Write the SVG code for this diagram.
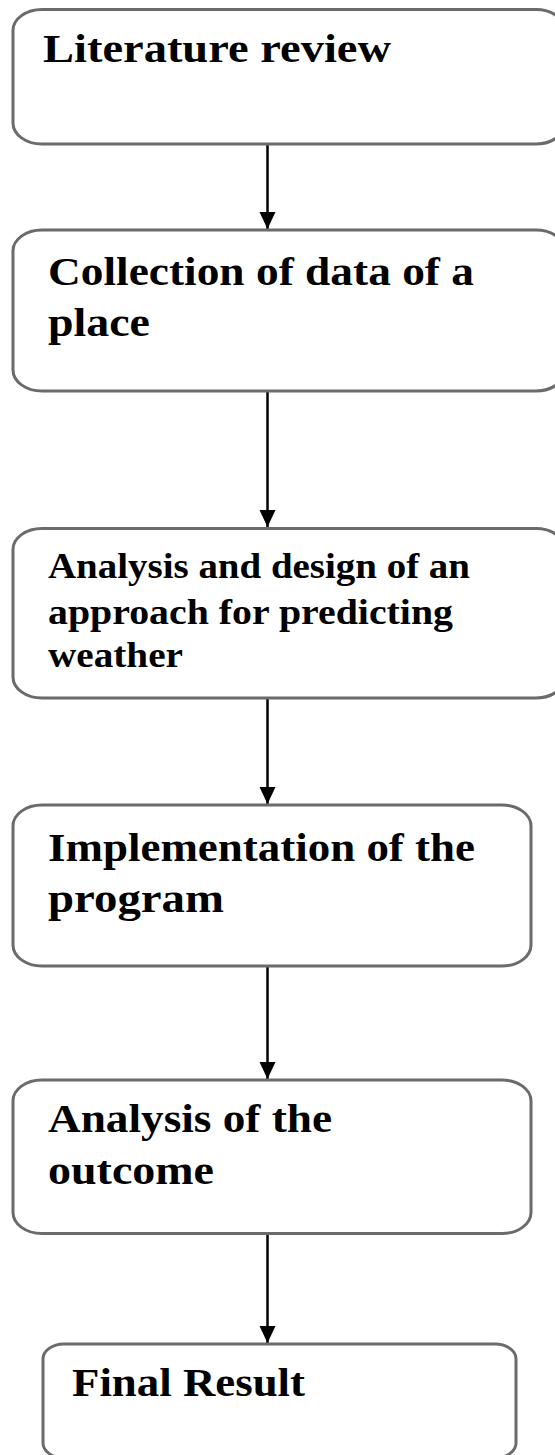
<svg xmlns="http://www.w3.org/2000/svg" width="555" height="1455" viewBox="0 0 555 1455">
  <defs>
    <style>
      .box { fill: #ffffff; stroke: #6b6b6b; stroke-width: 3; }
      .label { font-family: "Liberation Serif", "Times New Roman", serif; font-weight: bold; fill: #000000; }
      .big { font-size: 39px; }
      .mid { font-size: 35px; }
      .link { fill: none; stroke: #000000; stroke-width: 2.5; marker-end: url(#head); }
    </style>
    <marker id="head" markerUnits="userSpaceOnUse" markerWidth="18" markerHeight="18" refX="17" refY="8" orient="auto">
      <path d="M0,0 L17,8 L0,16 Z" fill="#000000"/>
    </marker>
  </defs>

  <rect width="555" height="1455" fill="#ffffff"/>

  <!-- flow connectors -->
  <g id="connectors">
    <line class="link" x1="267.5" y1="145" x2="267.5" y2="229"/>
    <line class="link" x1="267.5" y1="392" x2="267.5" y2="527"/>
    <line class="link" x1="267.5" y1="699" x2="267.5" y2="804"/>
    <line class="link" x1="267.5" y1="967" x2="267.5" y2="1079"/>
    <line class="link" x1="267.5" y1="1234" x2="267.5" y2="1343"/>
  </g>

  <g id="literature-review">
    <rect class="box" x="13" y="9.5" width="552" height="134.5" rx="29" ry="21"/>
    <text class="label big" x="43" y="62" textLength="348" lengthAdjust="spacingAndGlyphs">Literature review</text>
  </g>

  <g id="data-collection">
    <rect class="box" x="13" y="230" width="552" height="161" rx="29" ry="21"/>
    <text class="label big" x="48" y="285" textLength="426" lengthAdjust="spacingAndGlyphs">Collection of data of a</text>
    <text class="label big" x="48" y="336" textLength="102" lengthAdjust="spacingAndGlyphs">place</text>
  </g>

  <g id="analysis-design">
    <rect class="box" x="13" y="528.5" width="552" height="169.5" rx="29" ry="21"/>
    <text class="label mid" x="48" y="578" textLength="422" lengthAdjust="spacingAndGlyphs">Analysis and design of an</text>
    <text class="label mid" x="48" y="624" textLength="405" lengthAdjust="spacingAndGlyphs">approach for predicting</text>
    <text class="label mid" x="48" y="667" textLength="135" lengthAdjust="spacingAndGlyphs">weather</text>
  </g>

  <g id="implementation">
    <rect class="box" x="13" y="805" width="518" height="161" rx="29" ry="21"/>
    <text class="label big" x="48" y="861" textLength="427" lengthAdjust="spacingAndGlyphs">Implementation of the</text>
    <text class="label big" x="48" y="912" textLength="176" lengthAdjust="spacingAndGlyphs">program</text>
  </g>

  <g id="outcome-analysis">
    <rect class="box" x="13" y="1080" width="518" height="153.5" rx="29" ry="21"/>
    <text class="label big" x="48" y="1132" textLength="284" lengthAdjust="spacingAndGlyphs">Analysis of the</text>
    <text class="label big" x="48" y="1184" textLength="166" lengthAdjust="spacingAndGlyphs">outcome</text>
  </g>

  <g id="final-result">
    <rect class="box" x="43" y="1344" width="473" height="114" rx="21" ry="15"/>
    <text class="label big" x="72" y="1396" textLength="233" lengthAdjust="spacingAndGlyphs">Final Result</text>
  </g>
</svg>
